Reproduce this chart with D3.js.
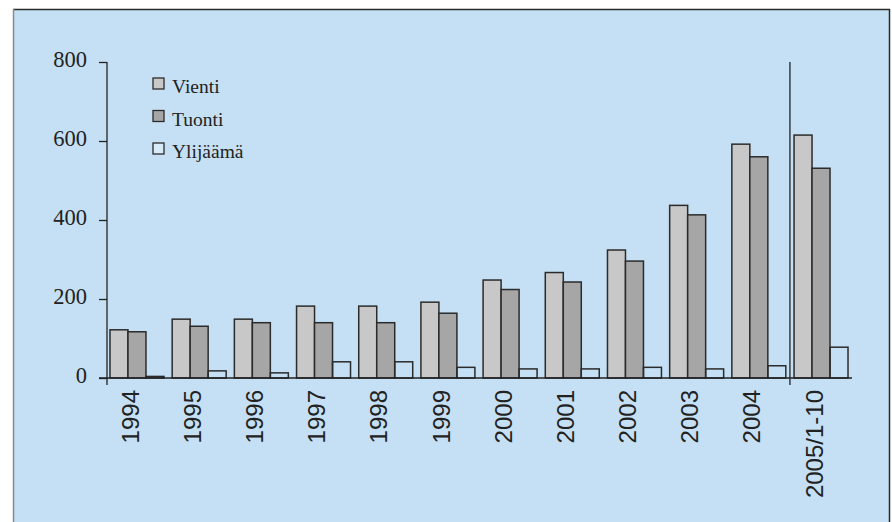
<!DOCTYPE html>
<html>
<head>
<meta charset="utf-8">
<script src="https://cdn.jsdelivr.net/npm/d3@7"></script>
<style>
  html, body { margin: 0; padding: 0; background: #ffffff; }
  svg { display: block; }
</style>
</head>
<body>
<svg id="chart" width="892" height="522"></svg>
<script>
// Chart data
const years = ["1994", "1995", "1996", "1997", "1998", "1999", "2000", "2001", "2002", "2003", "2004", "2005/1-10"];
const vienti = [122, 149, 149, 182, 182, 192, 248, 267, 324, 437, 592, 615];
const tuonti = [117, 131, 140, 140, 140, 164, 224, 243, 296, 413, 560, 531];
const ylijaama = [4, 18, 13, 41, 41, 27, 23, 23, 27, 23, 31, 78];
const seriesNames = ["Vienti", "Tuonti", "Ylijäämä"];
const yTicks = [0, 200, 400, 600, 800];

const colors = ["#c8c8c8", "#a6a6a6", "none"];
const serif = "'Liberation Serif', 'DejaVu Serif', serif";
const sans = "'Liberation Sans', Arial, sans-serif";

const svg = d3.select("#chart");

// Panel background and frame
svg.append("rect")
  .attr("x", 13).attr("y", 9)
  .attr("width", 877).attr("height", 520)
  .attr("fill", "#c5e0f4");
svg.append("line")
  .attr("x1", 13).attr("x2", 890).attr("y1", 9.5).attr("y2", 9.5)
  .attr("stroke", "#2a2a2a").attr("stroke-width", 1.5);
svg.append("line")
  .attr("x1", 13.5).attr("x2", 13.5).attr("y1", 9).attr("y2", 522)
  .attr("stroke", "#8a8a8a").attr("stroke-width", 1.5);
svg.append("line")
  .attr("x1", 889.5).attr("x2", 889.5).attr("y1", 9).attr("y2", 522)
  .attr("stroke", "#2a2a2a").attr("stroke-width", 1.5);

// Scales
const y = d3.scaleLinear().domain([0, 800]).range([378, 62]);
const x = d3.scaleBand()
  .domain(years)
  .range([107, 851])
  .paddingInner(0.132)
  .paddingOuter(0.048);
const xSub = d3.scaleBand()
  .domain(seriesNames)
  .range([0, x.bandwidth()]);

const rows = years.map((yr, i) => ({
  year: yr,
  values: [vienti[i], tuonti[i], ylijaama[i]]
}));

// Bars
const groups = svg.append("g")
  .selectAll("g")
  .data(rows)
  .join("g")
  .attr("transform", d => `translate(${x(d.year)},0)`);

groups.selectAll("rect")
  .data(d => d.values.map((v, k) => ({ name: seriesNames[k], value: v, k: k })))
  .join("rect")
  .attr("x", d => xSub(d.name))
  .attr("y", d => y(d.value))
  .attr("width", xSub.bandwidth())
  .attr("height", d => y(0) - y(d.value))
  .attr("fill", d => colors[d.k])
  .attr("stroke", "#2b2b2b")
  .attr("stroke-width", 1.5);

// Y axis
const yAxis = svg.append("g")
  .attr("transform", "translate(107,0)")
  .call(d3.axisLeft(y).tickValues(yTicks).tickSizeInner(8).tickSizeOuter(0).tickPadding(12));
yAxis.select(".domain").remove();
yAxis.selectAll(".tick line").attr("stroke", "#222").attr("stroke-width", 1.3);
yAxis.selectAll(".tick text")
  .attr("dy", "0.18em")
  .style("font-family", serif)
  .style("font-size", "22.5px")
  .attr("fill", "#222");

svg.append("line")
  .attr("x1", 107).attr("x2", 107)
  .attr("y1", y(800)).attr("y2", y(0) + 7)
  .attr("stroke", "#222").attr("stroke-width", 1.3);

// X axis baseline
svg.append("line")
  .attr("x1", 99).attr("x2", 852)
  .attr("y1", y(0)).attr("y2", y(0))
  .attr("stroke", "#222").attr("stroke-width", 1.3);

// Separator before the partial year
const sepX = (x("2004") + x.bandwidth() + x("2005/1-10")) / 2;
svg.append("line")
  .attr("x1", sepX).attr("x2", sepX)
  .attr("y1", y(800)).attr("y2", y(0) + 7)
  .attr("stroke", "#222").attr("stroke-width", 1.3);

// Rotated category labels
svg.append("g")
  .selectAll("text")
  .data(years)
  .join("text")
  .attr("transform", d => `translate(${x(d) + 20},390) rotate(-90)`)
  .attr("text-anchor", "end")
  .attr("dy", "0.36em")
  .style("font-family", sans)
  .style("font-size", "24px")
  .attr("fill", "#222")
  .text(d => d);

// Legend
const legend = svg.append("g")
  .selectAll("g")
  .data(seriesNames)
  .join("g")
  .attr("transform", (d, i) => `translate(153,${78 + i * 32.5})`);

legend.append("rect")
  .attr("width", 11).attr("height", 11)
  .attr("fill", (d, i) => colors[i] === "none" ? "#d8ebf8" : colors[i])
  .attr("stroke", "#2b2b2b")
  .attr("stroke-width", 1.3);

legend.append("text")
  .attr("x", 19).attr("y", 15)
  .style("font-family", serif)
  .style("font-size", "19.5px")
  .attr("fill", "#222")
  .text(d => d);
</script>
</body>
</html>
